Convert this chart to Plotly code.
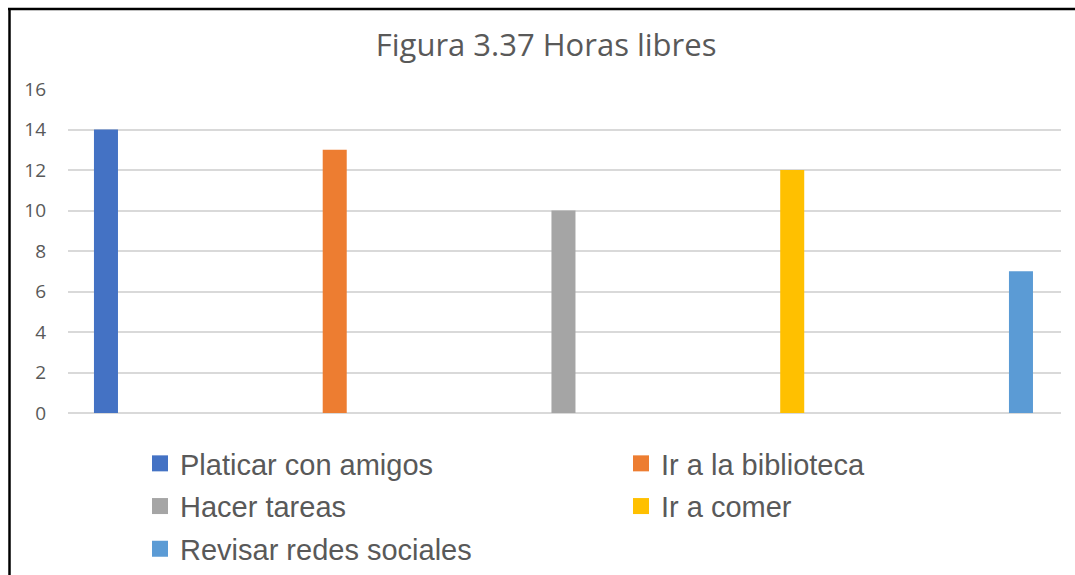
import plotly.graph_objects as go

# Data
categories = ["Horas libres"]
series_names = [
    "Platicar con amigos",
    "Ir a la biblioteca",
    "Hacer tareas",
    "Ir a comer",
    "Revisar redes sociales",
]
series_values = [14, 13, 10, 12, 7]
series_colors = ["#4472C4", "#ED7D31", "#A5A5A5", "#FFC000", "#5B9BD5"]
y_ticks = [0, 2, 4, 6, 8, 10, 12, 14, 16]

fig = go.Figure()

for name, val, col in zip(series_names, series_values, series_colors):
    # columns (legend handled by the square-marker proxies below)
    fig.add_trace(go.Bar(
        x=categories, y=[val], name=name, marker_color=col,
        marker_line_width=0, showlegend=False, legendgroup=name,
        hoverinfo="name+y",
    ))

for i, (name, col) in enumerate(zip(series_names, series_colors)):
    # square swatches, laid out in two legend columns (row-major order)
    fig.add_trace(go.Scatter(
        x=[None], y=[None], mode="markers", name=name, legendgroup=name,
        legend="legend" if i % 2 == 0 else "legend2",
        marker=dict(symbol="square", size=17, color=col),
    ))

legend_style = dict(
    orientation="v", yanchor="top", xanchor="left",
    yref="container", y=1 - 438 / 575, tracegroupgap=2,
    font=dict(family="Liberation Sans", size=29, color="#595959"),
    bgcolor="rgba(0,0,0,0)",
)

fig.update_layout(
    width=1075, height=575,
    margin=dict(l=68, r=14, t=89, b=162, autoexpand=False),
    paper_bgcolor="white", plot_bgcolor="white",
    barmode="group", bargap=0, bargroupgap=0.895,
    title=dict(
        text="Figura 3.37 Horas libres",
        x=0.508, xref="container", xanchor="center",
        y=0.922, yref="container", yanchor="middle",
        font=dict(family="Open Sans", size=31, color="#595959"),
    ),
    xaxis=dict(
        range=[-0.4332, 0.435], showticklabels=False, showgrid=False,
        zeroline=False, showline=False, fixedrange=True,
    ),
    yaxis=dict(
        range=[0, 16], tickvals=y_ticks, showgrid=True,
        gridcolor="#D9D9D9", gridwidth=1.5, zeroline=True,
        zerolinecolor="#D9D9D9", zerolinewidth=1.5, showline=False,
        ticks="", ticklabelstandoff=21,
        tickfont=dict(family="Open Sans", size=19, color="#595959"),
    ),
    legend=dict(x=(140 - 68) / 993, **legend_style),
    legend2=dict(x=(621 - 68) / 993, **legend_style),
    shapes=[
        # chart frame: left and top edges
        dict(type="line", xref="paper", yref="paper",
             x0=(9.5 - 68) / 993, x1=(9.5 - 68) / 993,
             y0=(413 - 9) / 324, y1=(413 - 580) / 324,
             line=dict(color="black", width=2.5)),
        dict(type="line", xref="paper", yref="paper",
             x0=(8 - 68) / 993, x1=(1080 - 68) / 993,
             y0=(413 - 9) / 324, y1=(413 - 9) / 324,
             line=dict(color="black", width=2.5)),
    ],
)

fig.write_html("out.html")
